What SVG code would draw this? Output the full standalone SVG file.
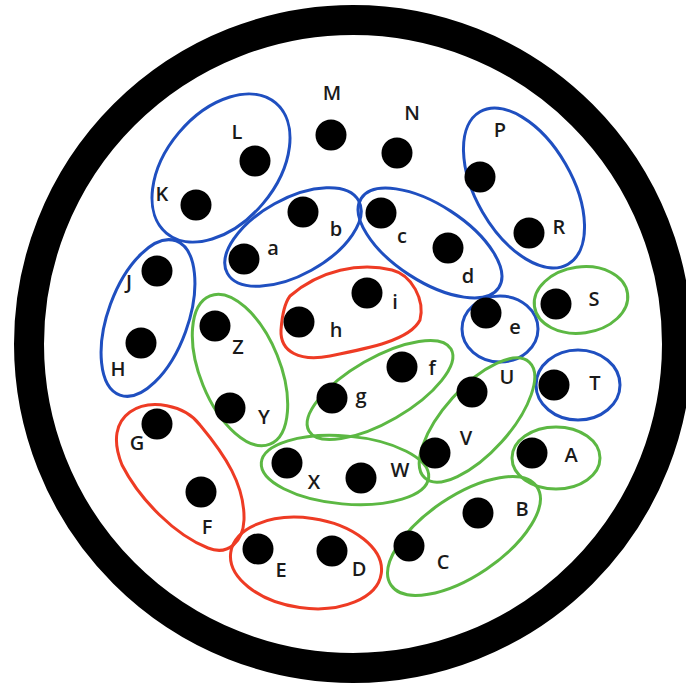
<svg xmlns="http://www.w3.org/2000/svg" width="686" height="690" viewBox="0 0 686 690">
<style>
.pin{fill:#000}
.lbl{font-family:"Open Sans","Liberation Sans",sans-serif;font-size:20px;font-weight:600;fill:#1a1a1a;text-anchor:middle}
.loop{fill:none;stroke-width:3;stroke-linejoin:round}
.b{stroke:#1f4fc0}
.r{stroke:#ee3b24}
.g{stroke:#5cb843}
</style>
<rect width="686" height="690" fill="#fff"/>
<circle id="shell" cx="353" cy="344" r="324" fill="none" stroke="#000" stroke-width="30"/>
<g id="loops">
<g id="loop-KL"><ellipse class="loop b" cx="221" cy="168" rx="85" ry="55" transform="rotate(-50 221 168)"/></g>
<g id="loop-ab"><ellipse class="loop b" cx="293" cy="237" rx="75" ry="38" transform="rotate(-29 293 237)"/></g>
<g id="loop-cd"><ellipse class="loop b" cx="430" cy="243" rx="82" ry="38" transform="rotate(33 430 243)"/></g>
<g id="loop-PR"><ellipse class="loop b" cx="524" cy="188" rx="88" ry="48" transform="rotate(60 524 188)"/></g>
<g id="loop-JH"><ellipse class="loop b" cx="148" cy="318" rx="82" ry="40" transform="rotate(-70 148 318)"/></g>
<g id="loop-e"><ellipse class="loop b" cx="500" cy="329" rx="38" ry="33"/></g>
<g id="loop-T"><ellipse class="loop b" cx="578" cy="385" rx="42" ry="35"/></g>
<g id="loop-S"><ellipse class="loop g" cx="581" cy="300" rx="47" ry="33" transform="rotate(-8 581 300)"/></g>
<g id="loop-A"><ellipse class="loop g" cx="556" cy="458" rx="44" ry="31"/></g>
<g id="loop-ZY"><ellipse class="loop g" cx="240" cy="370" rx="80" ry="40" transform="rotate(68 240 370)"/></g>
<g id="loop-gf"><ellipse class="loop g" cx="380" cy="390" rx="82" ry="32" transform="rotate(-30 380 390)"/></g>
<g id="loop-UV"><ellipse class="loop g" cx="477" cy="420" rx="78" ry="33" transform="rotate(-48 477 420)"/></g>
<g id="loop-XW"><ellipse class="loop g" cx="345" cy="470" rx="84" ry="34" transform="rotate(5 345 470)"/></g>
<g id="loop-BC"><ellipse class="loop g" cx="464" cy="536" rx="88" ry="40" transform="rotate(-34 464 536)"/></g>
<g id="loop-hi"><path class="loop r" d="M290 296 C320 270 360 262 392 270 C412 275 425 300 420 320 C410 340 370 348 330 356 C300 362 280 352 281 330 C282 316 284 304 290 296 Z"/></g>
<g id="loop-GF"><path class="loop r" d="M130 412 C150 398 185 405 200 425 C225 455 245 485 244 520 C243 542 228 556 208 548 C175 535 140 500 122 465 C112 440 116 422 130 412 Z"/></g>
<g id="loop-ED"><ellipse class="loop r" cx="306" cy="563" rx="76" ry="45" transform="rotate(8 306 563)"/></g>
</g>
<g id="pin-M"><circle class="pin" cx="331" cy="135" r="15.5"/><text class="lbl" x="332" y="100">M</text></g>
<g id="pin-N"><circle class="pin" cx="397" cy="153" r="15.5"/><text class="lbl" x="412" y="120">N</text></g>
<g id="pin-L"><circle class="pin" cx="255" cy="161" r="15.5"/><text class="lbl" x="237" y="139">L</text></g>
<g id="pin-K"><circle class="pin" cx="196" cy="205" r="15.5"/><text class="lbl" x="162" y="201">K</text></g>
<g id="pin-b"><circle class="pin" cx="303" cy="212" r="15.5"/><text class="lbl" x="336" y="236">b</text></g>
<g id="pin-a"><circle class="pin" cx="244" cy="259" r="15.5"/><text class="lbl" x="273" y="255">a</text></g>
<g id="pin-c"><circle class="pin" cx="381" cy="213" r="15.5"/><text class="lbl" x="402" y="243">c</text></g>
<g id="pin-d"><circle class="pin" cx="448" cy="248" r="15.5"/><text class="lbl" x="468" y="283">d</text></g>
<g id="pin-P"><circle class="pin" cx="480" cy="177" r="15.5"/><text class="lbl" x="500" y="137">P</text></g>
<g id="pin-R"><circle class="pin" cx="529" cy="233" r="15.5"/><text class="lbl" x="559" y="234">R</text></g>
<g id="pin-J"><circle class="pin" cx="157" cy="271" r="15.5"/><text class="lbl" x="129" y="289">J</text></g>
<g id="pin-H"><circle class="pin" cx="141" cy="343" r="15.5"/><text class="lbl" x="118" y="376">H</text></g>
<g id="pin-i"><circle class="pin" cx="367" cy="293" r="15.5"/><text class="lbl" x="395" y="309">i</text></g>
<g id="pin-h"><circle class="pin" cx="299" cy="322" r="15.5"/><text class="lbl" x="336" y="337">h</text></g>
<g id="pin-e"><circle class="pin" cx="486" cy="313" r="15.5"/><text class="lbl" x="515" y="334">e</text></g>
<g id="pin-S"><circle class="pin" cx="556" cy="304" r="15.5"/><text class="lbl" x="594" y="306">S</text></g>
<g id="pin-Z"><circle class="pin" cx="215" cy="326" r="15.5"/><text class="lbl" x="238" y="354">Z</text></g>
<g id="pin-f"><circle class="pin" cx="402" cy="367" r="15.5"/><text class="lbl" x="432" y="375">f</text></g>
<g id="pin-g"><circle class="pin" cx="332" cy="398" r="15.5"/><text class="lbl" x="361" y="403">g</text></g>
<g id="pin-U"><circle class="pin" cx="472" cy="392" r="15.5"/><text class="lbl" x="507" y="384">U</text></g>
<g id="pin-T"><circle class="pin" cx="554" cy="385" r="15.5"/><text class="lbl" x="595" y="390">T</text></g>
<g id="pin-Y"><circle class="pin" cx="230" cy="408" r="15.5"/><text class="lbl" x="264" y="424">Y</text></g>
<g id="pin-G"><circle class="pin" cx="157" cy="424" r="15.5"/><text class="lbl" x="137" y="450">G</text></g>
<g id="pin-V"><circle class="pin" cx="435" cy="453" r="15.5"/><text class="lbl" x="466" y="445">V</text></g>
<g id="pin-A"><circle class="pin" cx="532" cy="453" r="15.5"/><text class="lbl" x="571" y="462">A</text></g>
<g id="pin-X"><circle class="pin" cx="287" cy="463" r="15.5"/><text class="lbl" x="314" y="489">X</text></g>
<g id="pin-W"><circle class="pin" cx="361" cy="478" r="15.5"/><text class="lbl" x="400" y="477">W</text></g>
<g id="pin-F"><circle class="pin" cx="201" cy="492" r="15.5"/><text class="lbl" x="207" y="534">F</text></g>
<g id="pin-B"><circle class="pin" cx="478" cy="513" r="15.5"/><text class="lbl" x="522" y="516">B</text></g>
<g id="pin-C"><circle class="pin" cx="409" cy="546" r="15.5"/><text class="lbl" x="443" y="569">C</text></g>
<g id="pin-E"><circle class="pin" cx="258" cy="549" r="15.5"/><text class="lbl" x="281" y="577">E</text></g>
<g id="pin-D"><circle class="pin" cx="332" cy="551" r="15.5"/><text class="lbl" x="359" y="576">D</text></g>
</svg>
